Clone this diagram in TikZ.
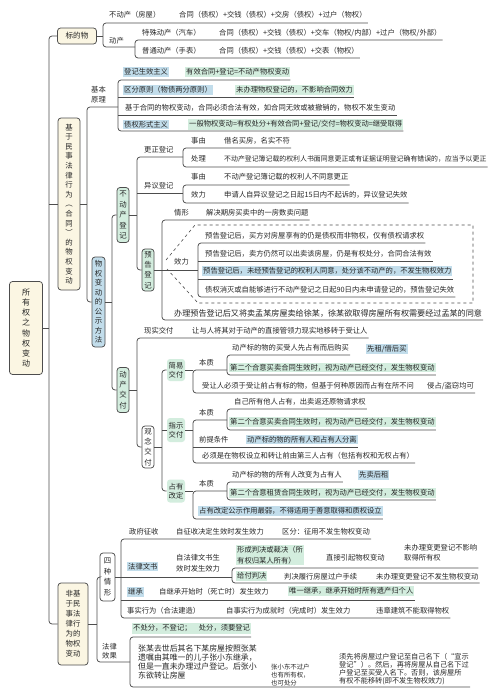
\documentclass[tikz,border=0pt]{standalone}
\usepackage{fontspec}
\setmainfont{Noto Sans CJK SC}
\definecolor{ink}{HTML}{4D4D4D}
\definecolor{mint}{HTML}{D3EDDE}
\definecolor{sky}{HTML}{C2DDEB}
\definecolor{cream}{HTML}{FBF6E3}
\newcommand\rowfont{\fontsize{7.3}{8.6}\selectfont}
\newcommand\boxfont{\fontsize{7.4}{10.4}\selectfont}

\tikzset{
  link/.style={draw=ink, line width=0.75pt, rounded corners=3pt},
  row/.style={inner xsep=1pt, inner ysep=1.5pt, anchor=west, font=\rowfont, text=black!85},
  rowg/.style={row, fill=mint},
  rowb/.style={row, fill=sky},
  vbox/.style={draw=ink, line width=0.75pt, rounded corners=3pt, align=center, inner sep=0pt, font=\boxfont, text=black!85},
}

\begin{document}
\begin{tikzpicture}[x=1pt, y=-1pt]
\useasboundingbox (0,0) rectangle (500,688);
\fill[white] (0,0) rectangle (500,688);

% root and trunk
\node[vbox, fill=cream, minimum width=33, minimum height=93, font=\fontsize{8}{10.2}\selectfont] (root) at (26,328) {所\\有\\权\\之\\物\\权\\变\\动};
\node[vbox, fill=cream, minimum width=39, minimum height=16, font=\fontsize{7.6}{9}\selectfont] (bdw) at (77,36) {标的物};
\node[vbox, fill=cream, minimum width=22, minimum height=172, font=\fontsize{7.4}{9.6}\selectfont] (jy) at (69,204) {基\\于\\民\\事\\法\\律\\行\\为\\︵\\合\\同\\︶\\的\\物\\权\\变\\动};
\node[vbox, fill=cream, minimum width=30, minimum height=82, font=\fontsize{7.4}{10}\selectfont] (fjy) at (73,624) {非基\\于民\\事法\\律行\\为的\\物权\\变动};
\coordinate (trk) at (49,328);
\draw[link] (root.east) -- (trk);
\draw[link] (bdw.west) -| (trk) |- (fjy.west);
\draw[link] (jy.west -| trk) -- (jy.west);

% 标的物
\node[row] (bdc) at (108,15) {不动产（房屋）};
\node[row] (bdc-l) at (178,15) {合同（债权）+交钱（债权）+交房（债权）+过户（物权）};
\node[row] (dc) at (108,41) {动产};
\node[row] (tsdc) at (141,33) {特殊动产（汽车）};
\node[row] (tsdc-l) at (218,33) {合同（债权）+交钱（债权）+交车（物权/内部）+过户（物权/外部）};
\node[row] (ptdc) at (141,51) {普通动产（手表）};
\node[row] (ptdc-l) at (218,51) {合同（债权）+交钱（债权）+交表（物权）};
\coordinate (a1) at (103,23);
\coordinate (a2) at (103,47);
\coordinate (b1) at (135,40);
\coordinate (b2) at (135,58);
\draw[link] (bdw.east) -- (bdw.east -| a1);
\draw[link] (a1 -| bdc-l.east) -- (a1) -- (a2) -- (a2 -| b1);
\draw[link] (b1 -| tsdc-l.east) -- (b1) -- (b2) -- (b2 -| ptdc-l.east);

% 基本原理
\node[row, align=center, font=\fontsize{7.3}{10}\selectfont] (jbyl) at (90,95) {基本\\原理};
\node[rowb] (djsx) at (123,72) {登记生效主义};
\node[rowg] (djsx-g) at (185,72) {有效合同+登记=不动产物权变动};
\node[rowb] (qfyz) at (123,90) {区分原则（物债两分原则）};
\node[rowg] (qfyz-g) at (235,90) {未办理物权登记的，不影响合同效力};
\node[row] (jyht) at (124,108) {基于合同的物权变动，合同必须合法有效，如合同无效或被撤销的，物权不发生变动};
\node[rowb] (zqxs) at (123,124.5) {债权形式主义};
\node[rowg] (zqxs-g) at (188,124.5) {一般物权变动=有权处分+有效合同+登记/交付=物权变动=继受取得};
\coordinate (c0) at (87,107);
\coordinate (e1) at (118,80);
\coordinate (e2) at (118,97);
\coordinate (e3) at (118,115);
\coordinate (e4) at (118,131);
\draw[link] (jy.east) -- (jy.east -| c0);
\draw[link] (e1 -| djsx-g.east) -- (e1) -- (e4) -- (e4 -| zqxs-g.east);
\draw[link] (e2) -- (e2 -| qfyz-g.east);
\draw[link] (e3) -- (e3 -| jyht.east);

% 公示方法
\node[vbox, fill=sky, minimum width=13, minimum height=90, font=\fontsize{7.4}{9.5}\selectfont] (gs) at (98.5,302) {物\\权\\变\\动\\的\\公\\示\\方\\法};
\node[vbox, fill=mint, minimum width=12, minimum height=55] (bdcdj) at (123,215) {不\\动\\产\\登\\记};
\node[vbox, fill=mint, minimum width=12, minimum height=45] (dcjf) at (123,390) {动\\产\\交\\付};
\coordinate (f0) at (112,302);
\draw[link] (c0 -| e1) -- (c0) |- (gs.west);
\draw[link] (gs.east) -- (f0);
\draw[link] (bdcdj.west) -| (f0) |- (dcjf.west);

% 不动产登记
\node[row] (gzdj) at (143,150) {更正登记};
\node[row] (yydj) at (143,186) {异议登记};
\node[vbox, fill=mint, minimum width=12, minimum height=42] (ygdj) at (148,270) {预\\告\\登\\记};
\coordinate (g0) at (137,215);
\coordinate (g1) at (137,157);
\coordinate (g2) at (137,193);
\coordinate (h1) at (183,148);
\coordinate (h2) at (183,167);
\coordinate (i1) at (183,185);
\coordinate (i2) at (183,203);
\draw[link] (bdcdj.east) -- (g0);
\draw[link] (g1 -| h1) -- (g1) |- (ygdj.west);
\draw[link] (g2) -- (g2 -| i1);
\node[row] (gz-sy) at (190,141) {事由};
\node[row] (gz-sy-l) at (223,141) {借名买房，名实不符};
\node[row] (gz-cl) at (190,159) {处理};
\node[row, font=\fontsize{6.9}{8}\selectfont] (gz-cl-l) at (223,159) {不动产登记簿记载的权利人书面同意更正或有证据证明登记确有错误的，应当予以更正};
\draw[link] (h1 -| gz-sy-l.east) -- (h1) -- (h2) -- (h2 -| gz-cl-l.east);
\node[row] (yy-sy) at (190,177) {事由};
\node[row] (yy-sy-l) at (223,177) {不动产登记簿记载的权利人不同意更正};
\node[row] (yy-xl) at (190,195) {效力};
\node[row] (yy-xl-l) at (223,195) {申请人自异议登记之日起15日内不起诉的，异议登记失效};
\draw[link] (i1 -| yy-sy-l.east) -- (i1) -- (i2) -- (i2 -| yy-xl-l.east);

% 预告登记
\node[row] (qx) at (173,213) {情形};
\node[row] (qx-l) at (205,213) {解决期房买卖中的一房数卖问题};
\node[row] (xl) at (173,262) {效力};
\node[row, font=\fontsize{8.1}{9}\selectfont] (blyg) at (173,313) {办理预告登记后又将卖孟某房屋卖给徐某，徐某欲取得房屋所有权需要经过孟某的同意};
\node[row] (yg1) at (204,236) {预告登记后，买方对房屋享有的仍是债权而非物权，仅有债权请求权};
\node[row] (yg2) at (204,254) {预告登记后，卖方仍然可以出卖该房屋，仍是有权处分，合同合法有效};
\node[rowb] (yg3) at (202,271) {预告登记后，未经预告登记的权利人同意，处分该不动产的，不发生物权效力};
\node[row] (yg4) at (204,290) {债权消灭或自能够进行不动产登记之日起90日内未申请登记的，预告登记失效};
\coordinate (j1) at (162,220);
\coordinate (j2) at (162,320);
\coordinate (k1) at (198,243);
\coordinate (k2) at (198,261);
\coordinate (k3) at (198,279);
\coordinate (k4) at (198,297);
\draw[link] (ygdj.east) -- (ygdj.east -| k1);
\draw[link] (j1 -| qx-l.east) -- (j1) -- (j2) -- (j2 -| blyg.east);
\draw[link] (k1 -| yg1.east) -- (k1) -- (k4) -- (k4 -| yg4.east);
\draw[link] (k2) -- (k2 -| yg2.east);
\draw[link] (k3) -- (k3 -| yg3.east);
\draw[ink, dashed, line width=0.6pt] (166,260) -- (195,225) -- (473,225) -- (473,303) -- (198,303) -- (167,269);

% 动产交付
\node[row] (xsjf) at (143,331) {现实交付};
\node[row] (xsjf-l) at (191,331) {让与人将其对于动产的直接管领力现实地移转于受让人};
\node[vbox, fill=white, minimum width=12, minimum height=42] (gnjf) at (148,447) {观\\念\\交\\付};
\coordinate (m1) at (137,338);
\draw[link] (dcjf.east) -- (dcjf.east -| m1);
\draw[link] (m1 -| xsjf-l.east) -- (m1) |- (gnjf.west);

% 观念交付
\node[vbox, draw=none, fill=mint, minimum width=18, minimum height=22, font=\fontsize{7.3}{9.5}\selectfont] (jyjf) at (176,370) {简易\\交付};
\node[vbox, draw=none, fill=mint, minimum width=18, minimum height=24, font=\fontsize{7.3}{9.5}\selectfont] (zsjf) at (176,430) {指示\\交付};
\node[vbox, draw=none, fill=mint, minimum width=18, minimum height=23, font=\fontsize{7.3}{9.5}\selectfont] (zygd) at (176,491) {占有\\改定};
\coordinate (n0) at (162,447);
\draw[link] (gnjf.east) -- (n0);
\draw[link] (jyjf.west) -| (n0) |- (zygd.west);
\draw[link] (zsjf.west) -- (zsjf.west -| n0);

% 简易交付
\node[row] (jy-bz) at (198,363) {本质};
\node[row] (jy-r1) at (231,348) {动产标的物的买受人先占有而后购买};
\node[rowb] (jy-r1b) at (366,349) {先租/借后买};
\node[rowg] (jy-r2) at (229,367.5) {第二个合意买卖合同生效时，视为动产已经交付，发生物权变动};
\node[row] (jy-sr) at (201,386) {受让人必须于受让前占有标的物，但基于何种原因而占有在所不问};
\node[row] (jy-sr-l) at (426,386) {侵占/盗窃均可};
\coordinate (p1) at (193,370);
\coordinate (p2) at (193,393);
\coordinate (q1) at (227,355);
\coordinate (q2) at (227,375);
\draw[link] (jyjf.east) -- (p1);
\draw[link] (p1 -| q1) -- (p1) -- (p2) -- (p2 -| jy-sr-l.east);
\draw[link] (q1 -| jy-r1.east) -- (q1) -- (q2) -- (q2 -| jy-r2.east);

% 指示交付
\node[row] (zs-bz) at (198,413) {本质};
\node[row] (zs-r1) at (233,402) {自己所有他人占有，出卖返还原物请求权};
\node[rowg] (zs-r2) at (229,422) {第二个合意买卖合同生效时，视为动产已经交付，发生物权变动};
\node[row] (zs-qt) at (198,440) {前提条件};
\node[rowb] (zs-qt-b) at (246,439.5) {动产标的物的所有人和占有人分离};
\node[row] (zs-bx) at (201,456) {必须是在物权设立和转让前由第三人占有（包括有权和无权占有）};
\coordinate (p3) at (193,420);
\coordinate (p4) at (193,447);
\coordinate (p5) at (193,463);
\coordinate (q3) at (227,409);
\coordinate (q4) at (227,430);
\draw[link] (zsjf.east) -- (zsjf.east -| p3);
\draw[link] (p3 -| q3) -- (p3) -- (p5) -- (p5 -| zs-bx.east);
\draw[link] (p4) -- (p4 -| zs-qt-b.east);
\draw[link] (q3 -| zs-r1.east) -- (q3) -- (q4) -- (q4 -| zs-r2.east);

% 占有改定
\node[row] (zy-bz) at (198,484) {本质};
\node[row] (zy-r1) at (231,475) {动产标的物的所有人改变为占有人};
\node[rowb] (zy-r1b) at (358,475) {先卖后租};
\node[rowg] (zy-r2) at (229,493) {第二个合意租赁合同生效时，视为动产已经交付，发生物权变动};
\node[rowb] (zy-zy) at (198,511) {占有改定公示作用最弱，不得适用于善意取得和质权设立};
\coordinate (p6) at (193,491);
\coordinate (p7) at (193,519);
\coordinate (q5) at (227,482);
\coordinate (q6) at (227,500);
\draw[link] (zygd.east) -- (p6);
\draw[link] (p6 -| q5) -- (p6) -- (p7) -- (p7 -| zy-zy.east);
\draw[link] (q5 -| zy-r1.east) -- (q5) -- (q6) -- (q6 -| zy-r2.east);

% 非基于民事法律行为
\node[vbox, fill=white, minimum width=15, minimum height=48] (szqx) at (107.5,577) {四\\种\\情\\形};
\node[row, align=center, font=\fontsize{7.3}{8.5}\selectfont] (flxg) at (101,651) {法律\\效果};
\coordinate (s0) at (97,624);
\coordinate (w0) at (130,662);
\draw[link] (fjy.east) -- (s0);
\draw[link] (szqx.west) -| (s0) |- (w0);

% 四种情形
\node[row] (zf) at (128,532) {政府征收};
\node[row] (zf-l) at (175,532) {自征收决定生效时发生效力};
\node[row] (zf-l2) at (281,532) {区分：征用不发生物权变动};
\node[rowb] (flws) at (127,566.5) {法律文书};
\node[row, align=left, font=\fontsize{7.3}{10.5}\selectfont] (flws-l) at (175,563) {自法律文书生\\效时发生效力};
\node[rowg, align=left, font=\fontsize{7.3}{10.5}\selectfont] (xc) at (236,555) {形成判决或裁决（所\\有权归某人所有）};
\node[row] (xc-l) at (325,558) {直接引起物权变动};
\node[row, align=left, font=\fontsize{7.3}{10}\selectfont] (xc-l2) at (403,553) {未办理变更登记不影响\\取得所有权};
\node[rowg] (gf) at (236,576) {给付判决};
\node[row] (gf-l) at (283,577) {判决履行房屋过户手续};
\node[row] (gf-l2) at (375,577) {未办理变更登记不发生物权变动};
\node[rowb] (jc) at (127,592) {继承};
\node[row] (jc-l) at (158,592) {自继承开始时（死亡时）发生效力};
\node[rowg] (jc-g) at (288,591) {唯一继承，继承开始时所有遗产归个人};
\node[row] (ss) at (126,611) {事实行为（合法建造）};
\node[row] (ss-l) at (225,611) {自事实行为成就时（完成时）发生效力};
\node[row] (ss-l2) at (375,611) {违章建筑不能取得物权};
\coordinate (t0) at (121,577);
\coordinate (t1) at (121,539);
\coordinate (t3) at (121,600);
\coordinate (t4) at (121,618);
\coordinate (u1) at (232,568);
\coordinate (u2) at (232,583);
\draw[link] (szqx.east) -- (t0 -| u1);
\draw[link] (t1 -| zf-l2.east) -- (t1) -- (t4) -- (t4 -| ss-l2.east);
\draw[link] (t3) -- (t3 -| jc-g.east);
\draw[link] (u1 -| xc-l2.east) -- (u1) -- (u2) -- (u2 -| gf-l2.east);

% 法律效果
\node[rowg] (flxg-g) at (132,628.5) {不处分，不登记；\quad 处分，须要登记};
\node[row, align=left, font=\fontsize{7.9}{9.3}\selectfont] (lz) at (137,662) {张某去世后其名下某房屋按照张某\\遗嘱由其唯一的儿子张小东继承，\\但是一直未办理过户登记。后张小\\东欲转让房屋};
\node[row, align=left, font=\fontsize{6.4}{7.6}\selectfont] (zxd) at (270,675) {张小东不过户\\也有所有权，\\也可处分};
\node[row, align=left, font=\fontsize{7.2}{7.8}\selectfont] (xx) at (338,669) {须先将房屋过户登记至自己名下（“宣示\\登记”）。然后，再将房屋从自己名下过\\户登记至买受人名下。否则，该房屋所\\有权不能移转(即不发生物权效力)};
\coordinate (w1) at (130,637);
\coordinate (w2) at (130,687);
\draw[link] (w1 -| flxg-g.east) -- (w1) -- (w2) -- (w2 -| xx.east);
\end{tikzpicture}
\end{document}
